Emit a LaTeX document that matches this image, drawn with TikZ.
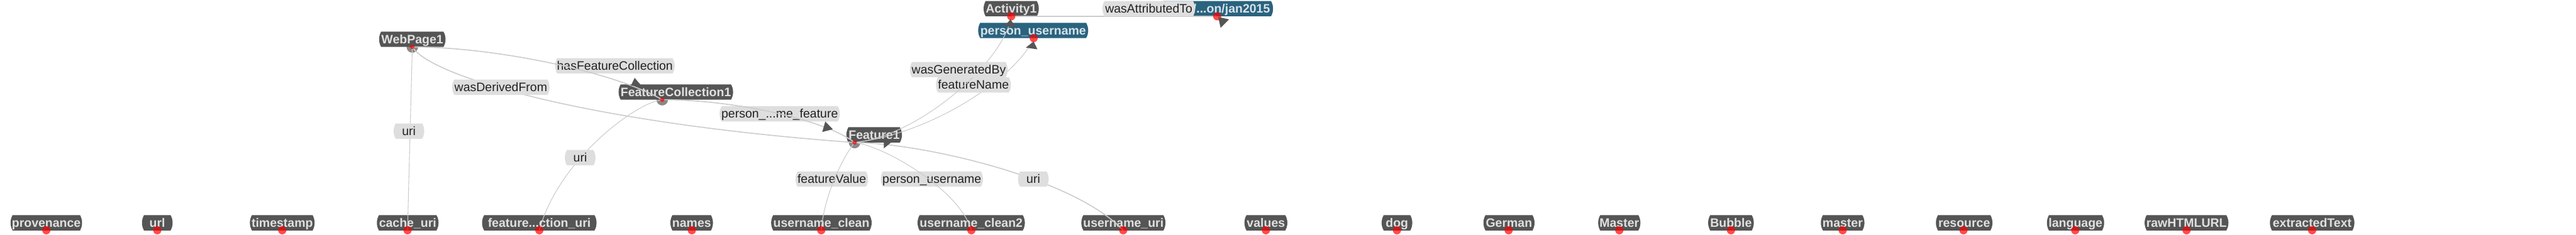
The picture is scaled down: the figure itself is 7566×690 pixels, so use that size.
\documentclass[tikz,border=0pt]{standalone}
\usepackage{fontspec}
\setmainfont{Liberation Sans}
\usetikzlibrary{shapes.misc}
\definecolor{ndgray}{RGB}{85,85,85}
\definecolor{ndtext}{RGB}{224,224,224}
\definecolor{blu}{RGB}{42,99,126}
\definecolor{blutext}{RGB}{214,226,234}
\definecolor{lblfill}{RGB}{222,222,222}
\definecolor{lbltext}{RGB}{34,34,34}
\definecolor{edgec}{RGB}{204,204,204}
\definecolor{hubgray}{RGB}{136,136,136}
\pgfdeclarelayer{bg}
\pgfdeclarelayer{fg}
\pgfsetlayers{bg,main,fg}
\begin{document}
\begin{tikzpicture}[x=0.01cm,y=-0.01cm,
  base/.style={rounded rectangle, rounded rectangle arc length=60, inner xsep=0pt, inner ysep=0pt,
    minimum height=0.45cm, text height=0.72em, text depth=0pt, font=\fontsize{10.24pt}{12pt}\selectfont},
  nd/.style={base, fill=ndgray, text=ndtext, font=\bfseries\fontsize{10.24pt}{12pt}\selectfont, minimum width=#1},
  bl/.style={base, fill=blu, text=blutext, font=\bfseries\fontsize{10.24pt}{12pt}\selectfont, minimum width=#1},
  lbl/.style={base, fill=lblfill, text=lbltext, minimum width=#1},
  edge/.style={draw=edgec, line width=0.03cm},
  thinedge/.style={draw=edgec, line width=0.02cm},
  arr/.style={fill=ndgray},
  reddot/.style={circle, fill=red, fill opacity=0.7, minimum size=0.24cm, inner sep=0pt},
  smalldot/.style={reddot, minimum size=0.13cm},
  hub/.style={circle, fill=hubgray, minimum size=0.34cm, inner sep=0pt}
]
\useasboundingbox (0,0) rectangle (7566,690);

% hub circles
\begin{pgfonlayer}{bg}
\node[hub] (hWP) at (1211,138) {};
\node[hub] (hFC) at (1945,293) {};
\node[hub] (hF) at (2510,419) {};
\end{pgfonlayer}

% upper nodes
\node[nd=1.95cm] (webpage) at (1211,115.5) {WebPage1};
\node[nd=3.36cm] (fc) at (1985,270.5) {FeatureCollection1};
\node[nd=1.63cm] (feature) at (2567.5,396.5) {Feature1};
\node[nd=1.62cm] (activity) at (2970,25.5) {Activity1};
\node[bl=3.23cm] (person) at (3034.5,89.5) {person\_username};
\node[bl=3.28cm, text width=3.10cm, align=right] (jan) at (3575,25.5) {/...on/jan2015};

% bottom row
\node[nd=2.10cm] (provenance) at (136,655) {provenance};
\node[nd=0.58cm] (url) at (462,655) {url};
\node[nd=1.90cm] (timestamp) at (829,655) {timestamp};
\node[nd=1.81cm] (cache) at (1197.5,655) {cache\_uri};
\node[nd=3.36cm] (fcuri) at (1584,655) {feature...ction\_uri};
\node[nd=1.25cm] (names) at (2031.5,655) {names};
\node[nd=2.95cm] (uclean) at (2412.5,655) {username\_clean};
\node[nd=3.15cm] (uclean2) at (2852.5,655) {username\_clean2};
\node[nd=2.47cm] (uuri) at (3299.5,655) {username\_uri};
\node[nd=1.26cm] (values) at (3718,655) {values};
\node[nd=0.80cm] (dog) at (4103,655) {dog};
\node[nd=1.50cm] (german) at (4432,655) {German};
\node[nd=1.24cm] (Master) at (4756,655) {Master};
\node[nd=1.34cm] (bubble) at (5084,655) {Bubble};
\node[nd=1.28cm] (master) at (5412,655) {master};
\node[nd=1.66cm] (resource) at (5769,655) {resource};
\node[nd=1.68cm] (language) at (6096,655) {language};
\node[nd=2.46cm] (rawhtml) at (6422,655) {rawHTMLURL};
\node[nd=2.48cm] (extracted) at (6791,655) {extractedText};

% edge labels that lie under the connectors
\node[lbl=3.51cm] (lHas) at (1806,193.5) {hasFeatureCollection};
\node[lbl=3.53cm] (lPmf) at (2290,334.5) {person\_...me\_feature};
\node[lbl=2.13cm] (lFV) at (2443,526.5) {featureValue};
\node[lbl=3.00cm] (lPU) at (2737,526.5) {person\_username};

% red dots and arrowheads (front layer)
\begin{pgfonlayer}{fg}
\node[smalldot] (dWP) at (1211,138) {};
\node[smalldot] (dFC) at (1945,293) {};
\node[smalldot] (dF) at (2510,419) {};
\node[reddot] (dA) at (2970,48) {};
\node[reddot] (dPU) at (3036,112) {};
\node[reddot] (dJ) at (3575,48) {};
\node[reddot] (dProv) at (136,677) {};
\node[reddot] (dUrl) at (462,677) {};
\node[reddot] (dTime) at (829,677) {};
\node[reddot] (dCache) at (1197,677) {};
\node[reddot] (dFCU) at (1584,677) {};
\node[reddot] (dNames) at (2032,677) {};
\node[reddot] (dUC) at (2412,677) {};
\node[reddot] (dUC2) at (2853,677) {};
\node[reddot] (dUU) at (3299,677) {};
\node[reddot] (dValues) at (3718,677) {};
\node[reddot] (dDog) at (4103,677) {};
\node[reddot] (dGerman) at (4431,677) {};
\node[reddot] (dMaster) at (4756,677) {};
\node[reddot] (dBubble) at (5084,677) {};
\node[reddot] (dmaster) at (5412,677) {};
\node[reddot] (dRes) at (5767,677) {};
\node[reddot] (dLang) at (6095,677) {};
\node[reddot] (dRaw) at (6422,677) {};
\node[reddot] (dExt) at (6791,677) {};
\fill[arr] (1864,229) -- (1853,252) -- (1884,252) -- cycle;
\fill[arr] (2424,357) -- (2415,388) -- (2446,380) -- cycle;
\fill[arr] (2596,436) -- (2596,415) -- (2622,415) -- cycle;
\fill[arr] (2968,57) -- (2950,77) -- (2983,80) -- cycle;
\fill[arr] (3036,122) -- (3013,140) -- (3047,145) -- cycle;
\fill[arr] (3578,50) -- (3610,57) -- (3585,82) -- cycle;
\end{pgfonlayer}

% connectors
\draw[edge] (dWP.center) .. controls (1450,138) and (1800,210) .. (dFC.center);
\draw[edge] (dWP.center) .. controls (1260,220) and (1700,360) .. (dF.center);
\draw[thinedge] (dWP.center) -- (dCache.center);
\draw[edge] (dFC.center) .. controls (2150,293) and (2420,350) .. (dF.center);
\draw[thinedge] (dFC.center) .. controls (1870,300) and (1640,470) .. (dFCU.center);
\draw[thinedge] (dF.center) .. controls (2750,390) and (2990,220) .. (dPU.center);
\node[lbl=2.20cm] (lFN) at (2859,249.5) {featureName};
\draw[thinedge] (dF.center) .. controls (2700,400) and (2950,180) .. (dA.center);
\draw[thinedge] (dF.center) .. controls (2470,470) and (2420,580) .. (dUC.center);
\draw[thinedge] (dF.center) .. controls (2600,430) and (2820,560) .. (dUC2.center);
\draw[edge] (dF.center) .. controls (2700,420) and (3150,520) .. (dUU.center);
\draw[edge] (dA.center) -- (dJ.center);

% edge labels that cover their connectors
\node[lbl=2.86cm] (lDer) at (1471,256.5) {wasDerivedFrom};
\node[lbl=0.54cm] (lUri1) at (1201,385.5) {uri};
\node[lbl=0.54cm] (lUri2) at (1704,463.5) {uri};
\node[lbl=2.87cm] (lGen) at (2816,204.5) {wasGeneratedBy};
\node[lbl=0.52cm] (lUri3) at (3035,526.5) {uri};
\node[lbl=2.72cm] (lAtt) at (3374,25.5) {wasAttributedTo};
\end{tikzpicture}
\end{document}
